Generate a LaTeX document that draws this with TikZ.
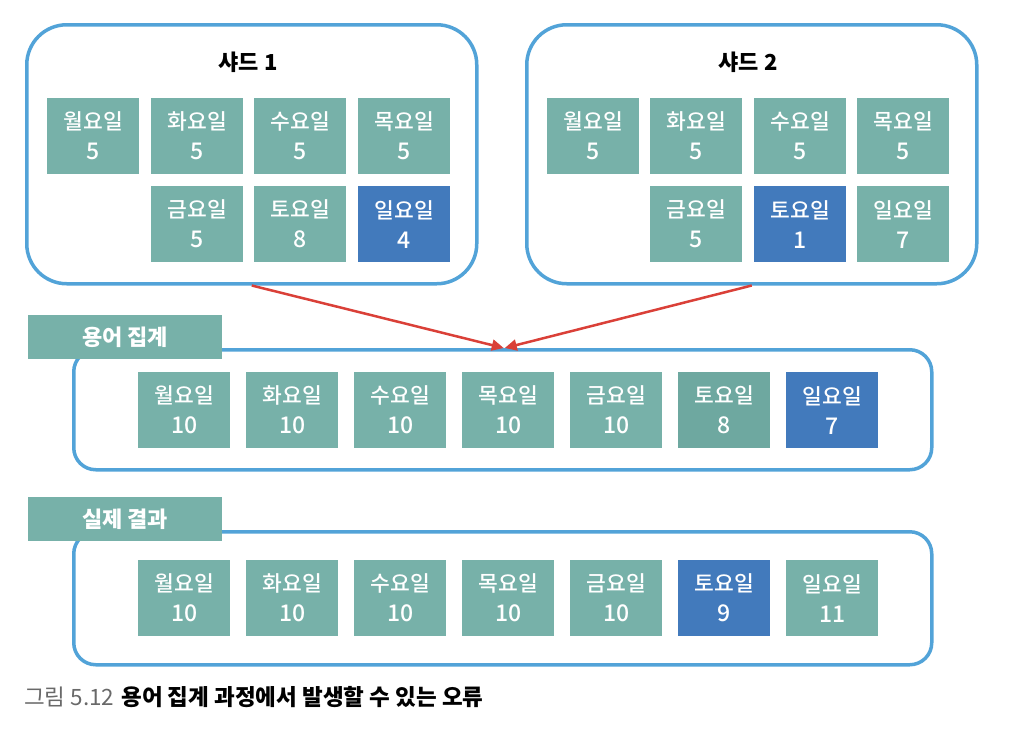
\documentclass[tikz,border=0pt]{standalone}
\usepackage{fontspec}
\setmainfont{Noto Sans CJK KR}
\newfontfamily\medfont{Noto Sans CJK KR Medium}
\usetikzlibrary{arrows.meta}
\definecolor{shardblue}{RGB}{82,163,216}
\definecolor{dayteal}{RGB}{119,177,169}
\definecolor{daytealdark}{RGB}{110,168,160}
\definecolor{dayblue}{RGB}{66,122,188}
\definecolor{arrowred}{RGB}{218,64,56}
\definecolor{capgray}{RGB}{105,105,105}
\newcommand{\daynum}[1]{\fontsize{23}{30}\selectfont #1}
\tikzset{
  frame/.style={draw=shardblue, line width=3.5pt, fill=white, inner sep=0pt, anchor=north west},
  daybox/.style={fill=dayteal, minimum width=92pt, minimum height=76pt, inner sep=0pt,
    text=white, font=\medfont\fontsize{21.5}{30}\selectfont, align=center, anchor=north west},
  hot/.style={fill=dayblue},
  tagbox/.style={fill=dayteal, minimum width=194pt, minimum height=44pt, inner sep=0pt,
    text=white, font=\fontsize{22}{24}\selectfont\bfseries, anchor=north west},
  title/.style={font=\fontsize{22}{24}\selectfont\bfseries, text=black},
  redarrow/.style={draw=arrowred, line width=2.5pt, -{Triangle[length=12pt,width=11pt]}}
}
\begin{document}
\begin{tikzpicture}[x=1pt,y=-1pt]
\useasboundingbox (0,0) rectangle (1015,745);
% shard frames
\node[frame, rounded corners=40pt, minimum width=450pt, minimum height=259pt] (s1) at (25,23) {};
\node[frame, rounded corners=40pt, minimum width=450pt, minimum height=259pt] (s2) at (525,23) {};
\node[title] (t1) at (248,62) {샤드 1};
\node[title] (t2) at (748,62) {샤드 2};
% shard 1 days
\node[daybox] (a1) at (47,98) {월요일\\\daynum{5}};
\node[daybox] (a2) at (151,98) {화요일\\\daynum{5}};
\node[daybox] (a3) at (254,98) {수요일\\\daynum{5}};
\node[daybox] (a4) at (358,98) {목요일\\\daynum{5}};
\node[daybox] (a5) at (151,186) {금요일\\\daynum{5}};
\node[daybox] (a6) at (254,186) {토요일\\\daynum{8}};
\node[daybox, hot] (a7) at (358,186) {일요일\\\daynum{4}};
% shard 2 days
\node[daybox] (b1) at (547,98) {월요일\\\daynum{5}};
\node[daybox] (b2) at (650,98) {화요일\\\daynum{5}};
\node[daybox] (b3) at (754,98) {수요일\\\daynum{5}};
\node[daybox] (b4) at (857,98) {목요일\\\daynum{5}};
\node[daybox] (b5) at (650,186) {금요일\\\daynum{5}};
\node[daybox, hot] (b6) at (754,186) {토요일\\\daynum{1}};
\node[daybox] (b7) at (857,186) {일요일\\\daynum{7}};
% aggregation
\node[frame, rounded corners=22pt, minimum width=858pt, minimum height=120pt] (agg) at (72,348) {};
\node[tagbox] (aggtag) at (28,315) {용어 집계};
\node[daybox] (c1) at (138,372) {월요일\\\daynum{10}};
\node[daybox] (c2) at (246,372) {화요일\\\daynum{10}};
\node[daybox] (c3) at (354,372) {수요일\\\daynum{10}};
\node[daybox] (c4) at (462,372) {목요일\\\daynum{10}};
\node[daybox] (c5) at (570,372) {금요일\\\daynum{10}};
\node[daybox, fill=daytealdark] (c6) at (678,372) {토요일\\\daynum{8}};
\node[daybox, hot] (c7) at (786,372) {일요일\\\daynum{7}};
% actual result
\node[frame, rounded corners=22pt, minimum width=858pt, minimum height=133pt] (res) at (72,530) {};
\node[tagbox] (restag) at (28,497) {실제 결과};
\node[daybox] (d1) at (138,560) {월요일\\\daynum{10}};
\node[daybox] (d2) at (246,560) {화요일\\\daynum{10}};
\node[daybox] (d3) at (354,560) {수요일\\\daynum{10}};
\node[daybox] (d4) at (462,560) {목요일\\\daynum{10}};
\node[daybox] (d5) at (570,560) {금요일\\\daynum{10}};
\node[daybox, hot] (d6) at (678,560) {토요일\\\daynum{9}};
\node[daybox] (d7) at (786,560) {일요일\\\daynum{11}};
% arrows
\draw[redarrow] (s1.south) -- ([xshift=1pt]agg.north);
\draw[redarrow] (s2.south) -- ([xshift=2pt]agg.north);
% caption
\node[anchor=west, inner sep=0pt, font=\fontsize{22.5}{26}\selectfont] (cap) at (24,697)
  {\textcolor{capgray}{그림 5.12}\hspace{7pt}\textbf{용어 집계 과정에서 발생할 수 있는 오류}};
\end{tikzpicture}
\end{document}
